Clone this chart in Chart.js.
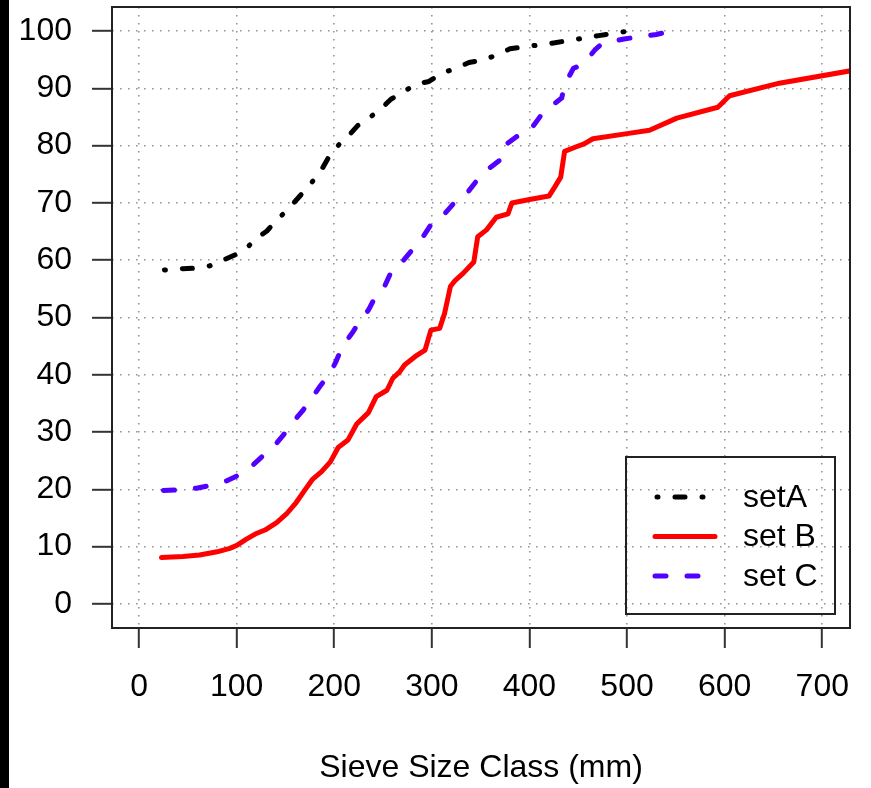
<!DOCTYPE html>
<html>
<head>
<meta charset="utf-8">
<script src="https://cdn.jsdelivr.net/npm/chart.js@4.4.1/dist/chart.umd.min.js"></script>
<style>
  html, body { margin: 0; padding: 0; background: #000; }
  #sieve_chart { display: block; margin-left: 9px; background: #fff; }
</style>
</head>
<body>
<canvas id="sieve_chart" width="862" height="788"></canvas>
<script>
// 粒度曲線データ (mm, %)
const setA_size = [26, 43, 57, 72, 86, 98, 110, 121, 131, 141, 151, 160, 170, 180, 188, 195, 205, 215, 224, 237, 247, 258, 271, 283, 297, 310, 324, 338, 354, 367, 380, 396, 411, 426, 441, 457, 471, 486, 501];
const setA_pct = [58.3, 58.5, 58.6, 59.0, 60.0, 60.9, 62.1, 63.9, 65.1, 67.0, 68.6, 70.3, 72.2, 74.2, 76.1, 78.2, 80.2, 81.8, 83.5, 85.0, 86.3, 88.1, 89.4, 90.7, 91.2, 92.6, 93.5, 94.5, 95.0, 95.9, 96.9, 97.3, 97.6, 97.95, 98.4, 98.8, 99.2, 99.6, 100];

const setB_size = [23, 45, 62, 80, 93, 101, 110, 119, 129, 141, 151, 161, 170, 178, 187, 196, 204, 214, 223, 235, 243, 254, 260, 267, 272, 283, 293, 299, 308, 313, 319, 324, 332, 343, 347, 356, 366, 378, 382, 400, 420, 426, 432, 436, 448, 456, 465, 500, 523, 551, 593, 605, 656, 730];
const setB_pct = [8.1, 8.3, 8.55, 9.1, 9.7, 10.3, 11.3, 12.2, 12.9, 14.2, 15.7, 17.7, 19.9, 21.8, 23.1, 24.8, 27.3, 28.6, 31.4, 33.4, 36.2, 37.3, 39.4, 40.5, 41.7, 43.2, 44.3, 47.8, 48.1, 50.7, 55.4, 56.5, 57.7, 59.7, 64.1, 65.3, 67.5, 68.1, 70.0, 70.6, 71.2, 72.8, 74.5, 79.0, 79.8, 80.3, 81.2, 82.1, 82.7, 84.8, 86.7, 88.7, 90.9, 93.1];

const setC_size = [25, 40, 59, 73, 90, 101, 115, 126, 139, 148, 158, 167, 177, 185, 196, 202, 209, 218, 226, 235, 243, 252, 260, 271, 283, 291, 301, 312, 324, 336, 347, 356, 370, 373, 387, 399, 411, 419, 433, 436, 445, 455, 467, 475, 497, 511, 530, 545];
const setC_pct = [19.8, 19.9, 20.2, 20.7, 21.5, 22.4, 24.0, 25.7, 27.7, 29.5, 31.8, 33.6, 35.9, 37.9, 40.3, 42.4, 45.2, 47.2, 49.3, 51.3, 53.9, 55.6, 58.6, 60.0, 62.4, 64.1, 66.7, 67.9, 70.2, 71.7, 74.1, 75.7, 77.5, 79.8, 81.6, 82.3, 85.1, 86.5, 88.3, 90.6, 93.5, 94.2, 96.7, 97.9, 98.6, 99.0, 99.4, 100];

const series_names = ["setA", "set B", "set C"];
const x_ticks = [0, 100, 200, 300, 400, 500, 600, 700];
const y_ticks = [0, 10, 20, 30, 40, 50, 60, 70, 80, 90, 100];

const FONT = "'Liberation Sans', Arial, sans-serif";
const FONT_SIZE = 32;

function toPoints(xs, ys) {
  return xs.map((x, i) => ({ x: x, y: ys[i] }));
}

function lineSet(label, xs, ys, color, dash) {
  return {
    label: label,
    data: toPoints(xs, ys),
    borderColor: color,
    backgroundColor: color,
    borderWidth: 5,
    borderDash: dash,
    borderCapStyle: "round",
    borderJoinStyle: "round",
    pointRadius: 0,
    tension: 0,
    fill: false,
  };
}

// 外枠と凡例 (グラフ内右下)
const frameAndLegend = {
  id: "frameAndLegend",
  afterDraw(chart) {
    const ctx = chart.ctx;
    const a = chart.chartArea;
    ctx.save();
    ctx.strokeStyle = "#222";
    ctx.lineWidth = 2;
    ctx.setLineDash([]);
    ctx.strokeRect(a.left, a.top, a.right - a.left, a.bottom - a.top);

    const bx = a.right - 224, by = a.bottom - 171, bw = 209, bh = 157;
    ctx.strokeRect(bx, by, bw, bh);
    ctx.font = FONT_SIZE + "px " + FONT;
    ctx.textBaseline = "middle";
    ctx.textAlign = "left";
    chart.data.datasets.forEach((ds, i) => {
      const y = by + 40 + i * 39.5;
      ctx.beginPath();
      ctx.strokeStyle = ds.borderColor;
      ctx.lineWidth = ds.borderWidth;
      ctx.lineCap = "round";
      ctx.setLineDash(ds.borderDash);
      ctx.lineDashOffset = i === 0 ? -2 : 0;
      ctx.moveTo(bx + 29, y);
      ctx.lineTo(bx + 89, y);
      ctx.stroke();
      ctx.setLineDash([]);
      ctx.fillStyle = "#000";
      ctx.fillText(ds.label, bx + 117, y + 1);
    });
    ctx.restore();
  },
};

const gridStyle = {
  color: "rgba(130,130,130,0.85)",
  lineWidth: 1.6,
  tickColor: "#333",
  tickWidth: 2,
  tickLength: 20,
  tickBorderDash: [],
};

let context = document.querySelector("#sieve_chart").getContext("2d");
new Chart(context, {
  type: "line",
  data: {
    datasets: [
      lineSet(series_names[0], setA_size, setA_pct, "#000000", [1, 17, 10, 17]),
      lineSet(series_names[1], setB_size, setB_pct, "#ff0000", []),
      lineSet(series_names[2], setC_size, setC_pct, "#5200ff", [11, 21]),
    ],
  },
  options: {
    responsive: false,
    animation: false,
    devicePixelRatio: 1,
    layout: { padding: { top: 7, right: 21, left: 0, bottom: 0 } },
    scales: {
      x: {
        type: "linear",
        min: -27.7,
        max: 728.4,
        grid: gridStyle,
        border: { display: false, dash: [1.6, 6.4] },
        ticks: {
          includeBounds: false,
          stepSize: 100,
          padding: 20,
          color: "#000",
          font: { family: FONT, size: FONT_SIZE },
          maxRotation: 0,
          callback: (v) => (x_ticks.includes(v) ? String(v) : ""),
        },
        title: {
          display: true,
          text: "Sieve Size Class (mm)",
          color: "#000",
          font: { family: FONT, size: FONT_SIZE },
          padding: { top: 0, bottom: 1 },
        },
        afterFit(scale) {
          scale.height = 160;
          scale.paddingLeft = 0;
          scale.paddingRight = 0;
        },
      },
      y: {
        type: "linear",
        min: -4.2,
        max: 104.2,
        grid: gridStyle,
        border: { display: false, dash: [1.6, 6.4] },
        ticks: {
          includeBounds: false,
          stepSize: 10,
          padding: 20,
          color: "#000",
          font: { family: FONT, size: FONT_SIZE },
          callback: (v) => (y_ticks.includes(v) ? String(v) : ""),
        },
        afterFit(scale) {
          scale.width = 103;
          scale.paddingTop = 0;
          scale.paddingBottom = 0;
        },
      },
    },
    plugins: {
      legend: { display: false },
      tooltip: { enabled: false },
    },
  },
  plugins: [frameAndLegend],
});
</script>
</body>
</html>
